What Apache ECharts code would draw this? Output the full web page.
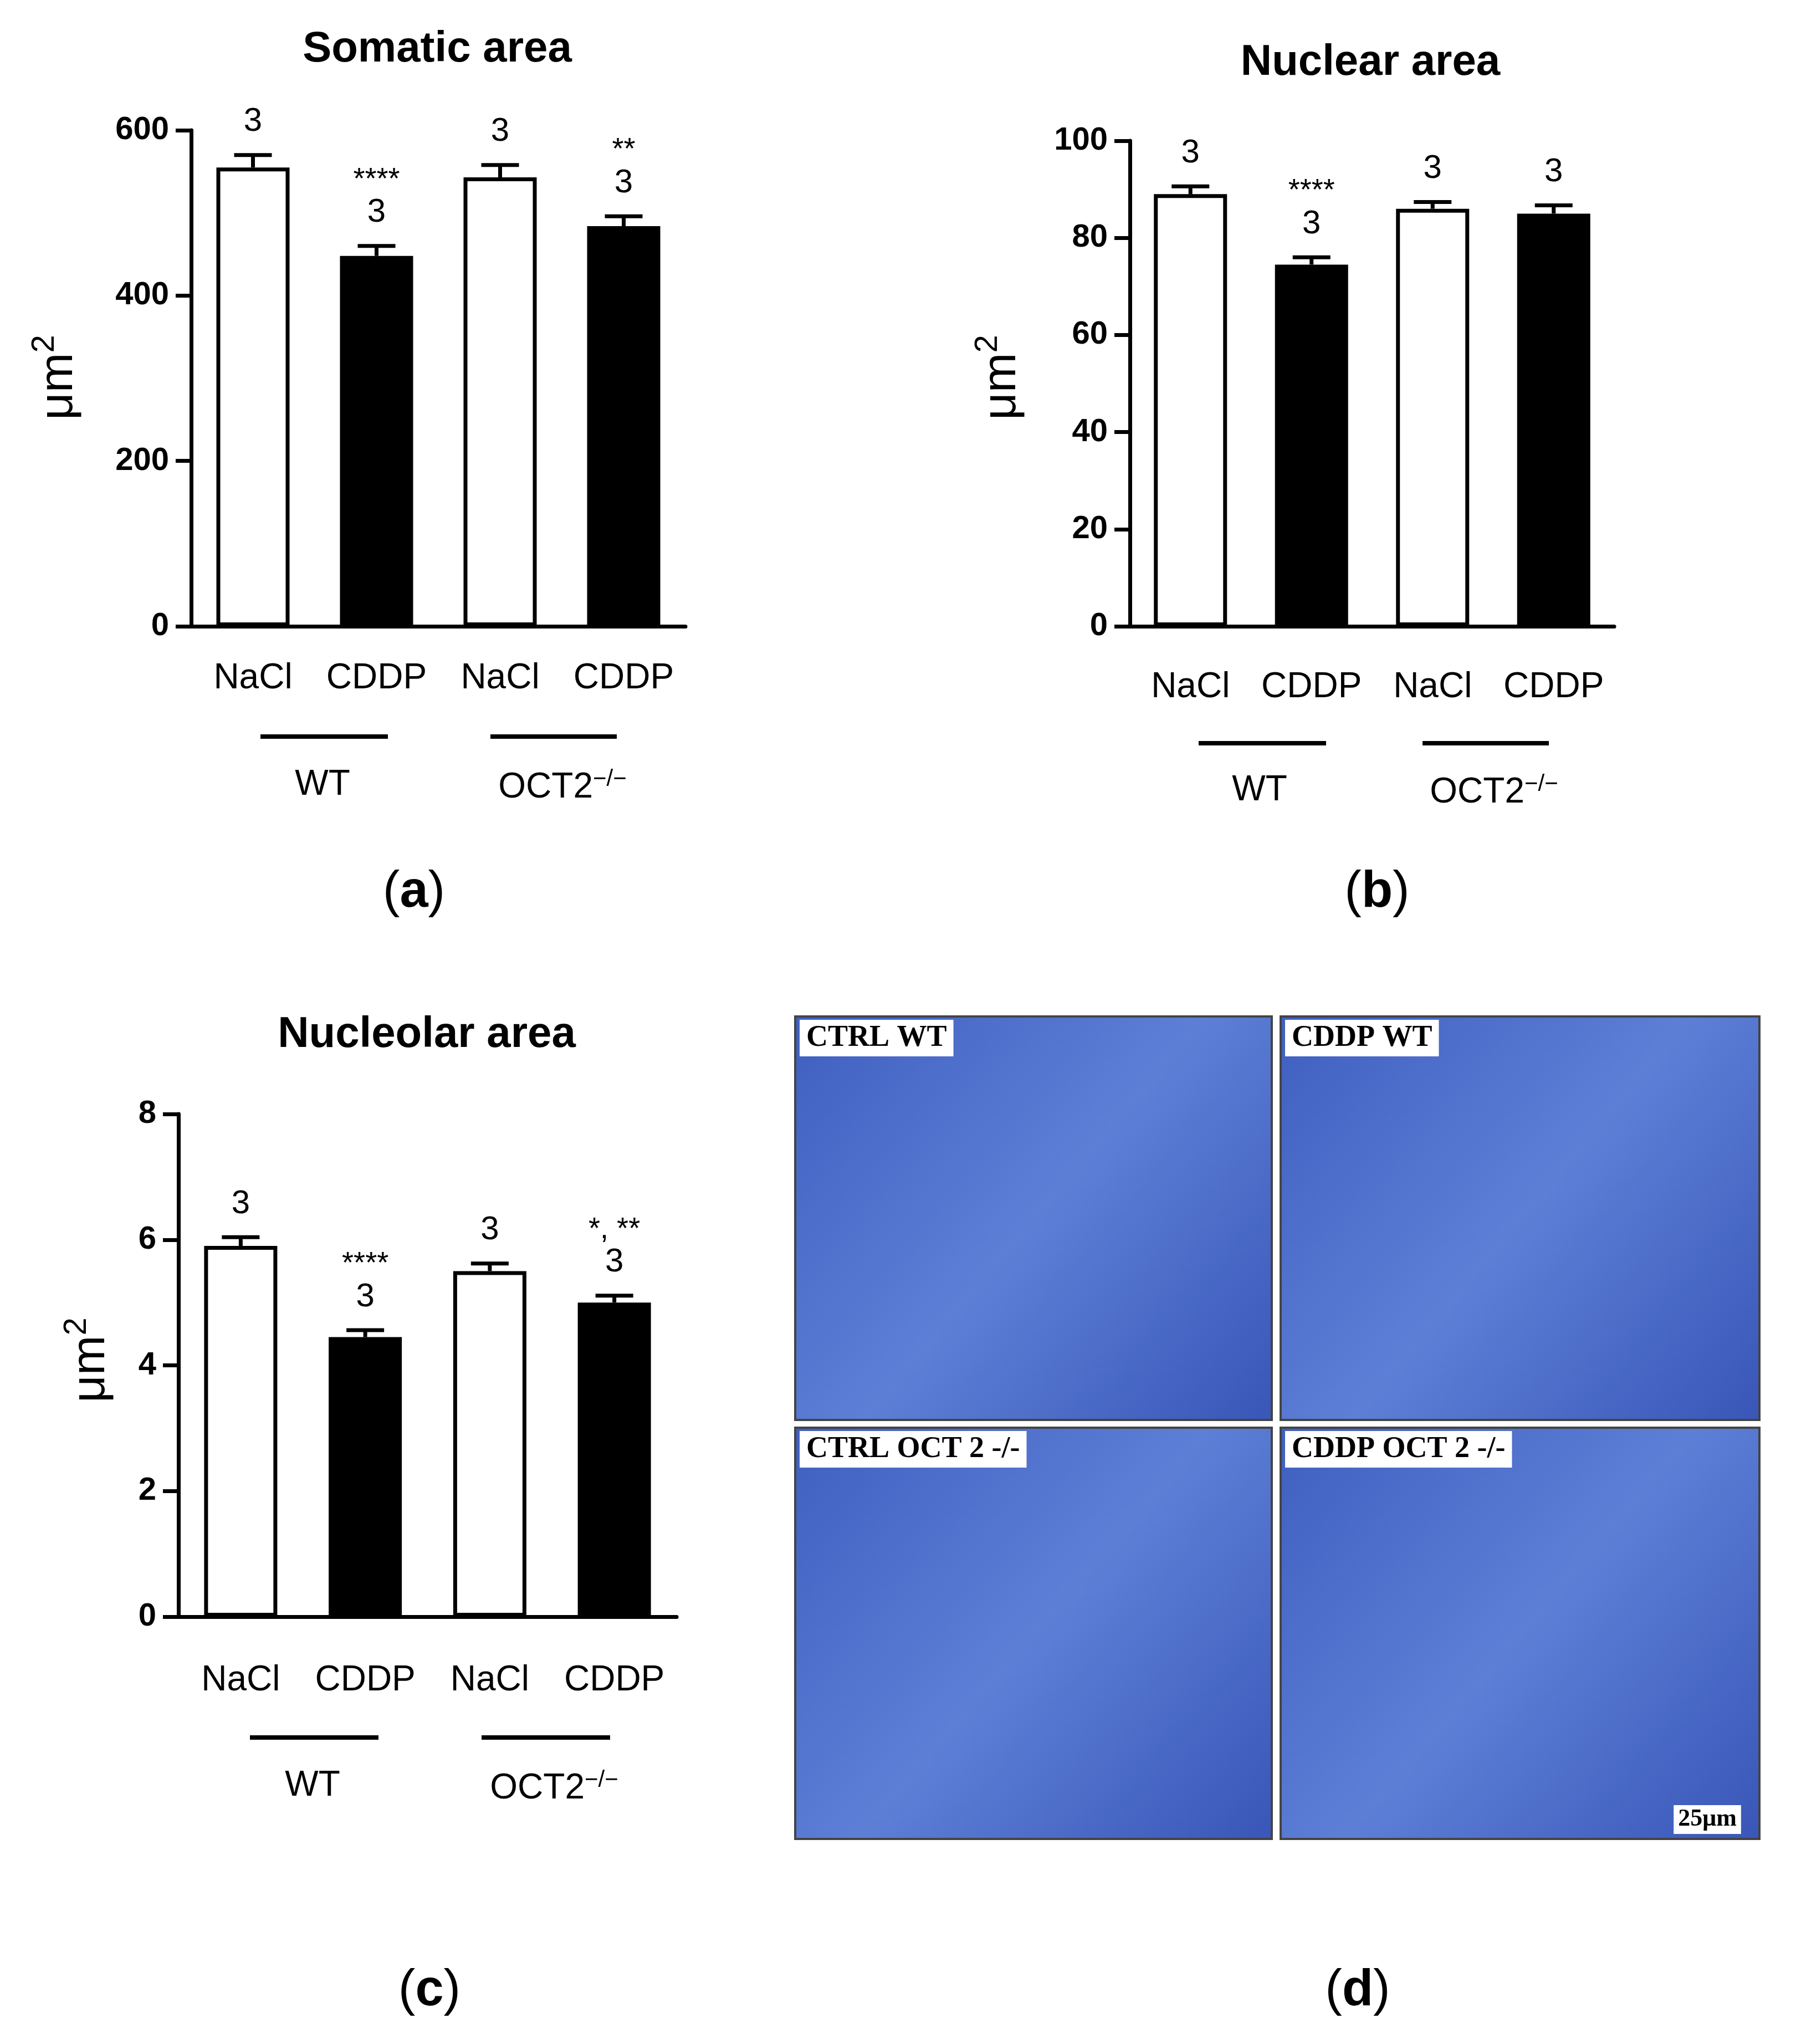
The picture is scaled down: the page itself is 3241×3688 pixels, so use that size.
<!DOCTYPE html>
<html><head><meta charset="utf-8">
<script src="https://cdn.jsdelivr.net/npm/echarts@6/dist/echarts.min.js"></script>
<style>html,body{margin:0;background:#fff}#c{width:3241px;height:3688px}</style>
</head><body><div id="c"></div>
<script>
const categories = ['NaCl','CDDP','NaCl','CDDP'];
const somaticMean = [555, 448, 543, 484];
const somaticErr = [15, 12, 15, 12];
const somaticStars = ['', '****', '', '**'];
const nuclearMean = [89, 74.5, 86, 85];
const nuclearErr = [1.6, 1.5, 1.4, 1.7];
const nuclearStars = ['', '****', '', ''];
const nucleolarMean = [5.9, 4.45, 5.5, 5.0];
const nucleolarErr = [0.14, 0.11, 0.12, 0.11];
const nucleolarStars = ['', '****', '', '*, **'];
const nLabels = ['3','3','3','3'];
const barColors = ['#ffffff','#000000','#ffffff','#000000'];

const S = 3241/1380;
const p = v => Math.round(v*S);
const F = 'Arial, "Liberation Sans", sans-serif';

const panels = [
 {title:'Somatic area', mean:somaticMean, err:somaticErr, stars:somaticStars, max:600, interval:200,
  grid:[147,100,527,481], catY:520, title_xy:[336,38], ylab:[45,290],
  lines:[[200,298,566],[377,474,566]], glab:[[248,603],[432,605]], plab:[318,686,'a']},
 {title:'Nuclear area', mean:nuclearMean, err:nuclearErr, stars:nuclearStars, max:100, interval:20,
  grid:[868,108,1240,481], catY:527, title_xy:[1053,48], ylab:[770,290],
  lines:[[921,1019,571],[1093,1190,571]], glab:[[968,607],[1148,609]], plab:[1058,686,'b']},
 {title:'Nucleolar area', mean:nucleolarMean, err:nucleolarErr, stars:nucleolarStars, max:8, interval:2,
  grid:[137,856,520,1242], catY:1290, title_xy:[328,795], ylab:[70,1045],
  lines:[[192,291,1335],[370,469,1335]], glab:[[240,1372],[426,1374]], plab:[330,1530,'c']}
];

const option = {backgroundColor:'#fff', animation:false, grid:[], xAxis:[], yAxis:[], series:[], graphic:[]};
panels.forEach((P,i)=>{
  const [x0,y0,x1,y1]=P.grid;
  option.grid.push({left:p(x0), top:p(y0), width:p(x1-x0), height:p(y1-y0)});
  option.xAxis.push({type:'category', gridIndex:i, data:categories,
    axisLine:{lineStyle:{color:'#000',width:7}},
    axisTick:{alignWithLabel:true, length:28, lineStyle:{width:7,color:'#000'}},
    axisLabel:{interval:0, color:'#000', fontSize:64, fontFamily:F, margin:p(P.catY-y1)-30}});
  option.yAxis.push({type:'value', gridIndex:i, min:0, max:P.max, interval:P.interval,
    axisLine:{show:true, lineStyle:{color:'#000',width:7}},
    axisTick:{show:true, length:28, lineStyle:{width:7,color:'#000'}},
    splitLine:{show:false},
    axisLabel:{color:'#000', fontSize:58, fontWeight:'bold', fontFamily:F, margin:40}});
  option.series.push({type:'bar', xAxisIndex:i, yAxisIndex:i, barWidth:p(56),
    data:P.mean.map((v,k)=>({value:v, itemStyle:{color:barColors[k], borderColor:'#000', borderWidth:7}}))});
  option.series.push({type:'custom', xAxisIndex:i, yAxisIndex:i, z:10,
    data:P.mean.map((v,k)=>[k,v,P.err[k]]),
    renderItem:(params,api)=>{
      const k=api.value(0), v=api.value(1), e=api.value(2);
      const a=api.coord([k,v]), b=api.coord([k,v+e]);
      const ch=[
        {type:'line',shape:{x1:a[0],y1:a[1],x2:b[0],y2:b[1]},style:{stroke:'#000',lineWidth:7}},
        {type:'line',shape:{x1:b[0]-34,y1:b[1],x2:b[0]+34,y2:b[1]},style:{stroke:'#000',lineWidth:7}},
        {type:'text',style:{x:b[0],y:b[1]-30,text:nLabels[k],fill:'#000',font:'60px '+F,align:'center',verticalAlign:'bottom'}}
      ];
      if(P.stars[k]) ch.push({type:'text',style:{x:b[0],y:b[1]-92,text:P.stars[k],fill:'#000',font:'54px '+F,align:'center',verticalAlign:'bottom'}});
      return {type:'group',children:ch};
    }});
  option.graphic.push({type:'text', x:p(P.title_xy[0]), y:p(P.title_xy[1]),
    style:{text:P.title, align:'center', verticalAlign:'middle', font:'bold 78px '+F, fill:'#000'}});
  option.graphic.push({type:'text', x:p(P.ylab[0]), y:p(P.ylab[1]), rotation:Math.PI/2,
    style:{text:'μm{s|2}', rich:{s:{fontSize:58, verticalAlign:'top', padding:[0,0,50,0], fontFamily:F}}, font:'86px '+F, fill:'#000', align:'center', verticalAlign:'middle'}});
  P.lines.forEach(l=>option.graphic.push({type:'line', shape:{x1:p(l[0]),y1:p(l[2]),x2:p(l[1]),y2:p(l[2])}, style:{stroke:'#000',lineWidth:8}}));
  option.graphic.push({type:'text', x:p(P.glab[0][0]), y:p(P.glab[0][1]), style:{text:'WT', font:'64px '+F, fill:'#000', align:'center', verticalAlign:'middle'}});
  option.graphic.push({type:'text', x:p(P.glab[1][0]), y:p(P.glab[1][1]), style:{text:'OCT2{s|−/−}', rich:{s:{fontSize:42, padding:[0,0,30,0], fontFamily:F}}, font:'64px '+F, fill:'#000', align:'center', verticalAlign:'middle'}});
  option.graphic.push({type:'text', x:p(P.plab[0]), y:p(P.plab[1]), style:{text:'({b|'+P.plab[2]+'})', rich:{b:{fontWeight:'bold',fontSize:92,fontFamily:F}}, font:'92px '+F, fill:'#000', align:'center', verticalAlign:'middle'}});
});
const micro = [[611,781,977,1091,'CTRL WT'],[984,781,1352,1091,'CDDP WT'],[611,1097,977,1413,'CTRL OCT 2 -/-'],[984,1097,1352,1413,'CDDP OCT 2 -/-']];
micro.forEach(m=>{
  option.graphic.push({type:'rect', shape:{x:p(m[0]),y:p(m[1]),width:p(m[2]-m[0]),height:p(m[3]-m[1])},
    style:{fill:{type:'linear',x:0,y:0,x2:1,y2:1,colorStops:[{offset:0,color:'#3f5fc0'},{offset:0.5,color:'#5d7fd6'},{offset:1,color:'#3956b8'}]}, stroke:'#444', lineWidth:4}});
  option.graphic.push({type:'text', x:p(m[0])+8, y:p(m[1])+6, style:{text:m[4], font:'bold 54px "Liberation Serif", serif', fill:'#000', backgroundColor:'#fff', padding:[6,12]}});
});
option.graphic.push({type:'text', x:p(1312), y:p(1398), style:{text:'25μm', font:'bold 44px "Liberation Serif", serif', fill:'#000', backgroundColor:'#fff', padding:[4,8], align:'center', verticalAlign:'middle'}});
option.graphic.push({type:'text', x:p(1043), y:p(1530), style:{text:'({b|d})', rich:{b:{fontWeight:'bold',fontSize:92,fontFamily:F}}, font:'92px '+F, fill:'#000', align:'center', verticalAlign:'middle'}});
echarts.init(document.getElementById('c')).setOption(option);
</script></body></html>
